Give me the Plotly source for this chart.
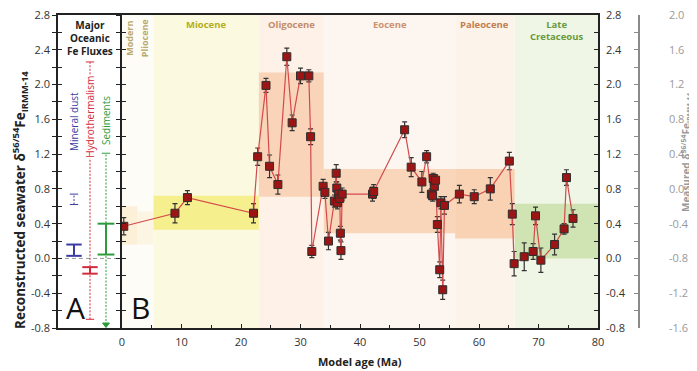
import plotly.graph_objects as go

# ---------------- data ----------------
ages = [0.3, 8.9, 11.0, 22.1, 22.8, 24.2, 24.8, 26.2, 27.7, 28.6, 30.0, 31.4, 31.7, 31.9,
        33.8, 34.1, 34.7, 35.7, 36.0, 36.1, 36.2, 36.4, 36.6, 36.7, 36.8, 37.0,
        42.1, 42.3, 47.5, 48.6, 50.4, 51.2, 52.0, 52.2, 52.3, 52.5, 52.7, 53.0, 53.4,
        53.6, 53.9, 54.2, 56.7, 59.2, 61.9, 65.1, 65.6, 65.9, 67.6, 69.1, 69.5, 70.4,
        72.7, 74.3, 74.7, 75.8]
values = [0.37, 0.52, 0.70, 0.52, 1.17, 1.99, 1.06, 0.85, 2.32, 1.56, 2.10, 2.10, 1.40, 0.08,
          0.83, 0.76, 0.20, 0.66, 0.98, 0.81, 0.64, 0.74, 0.69, 0.29, 0.09, 0.74,
          0.74, 0.77, 1.48, 1.05, 0.88, 1.17, 0.74, 0.72, 0.92, 0.83, 0.90, 0.39, -0.13,
          0.64, -0.36, 0.61, 0.74, 0.71, 0.80, 1.12, 0.51, -0.06, 0.02, 0.08, 0.49, -0.02,
          0.16, 0.34, 0.93, 0.46]
errors = [0.10, 0.11, 0.08, 0.11, 0.10, 0.08, 0.13, 0.11, 0.10, 0.09, 0.09, 0.07, 0.09, 0.07,
          0.08, 0.07, 0.10, 0.07, 0.10, 0.07, 0.07, 0.07, 0.07, 0.08, 0.10, 0.07,
          0.08, 0.08, 0.09, 0.11, 0.12, 0.07, 0.06, 0.06, 0.06, 0.06, 0.06, 0.09, 0.09,
          0.07, 0.11, 0.10, 0.10, 0.08, 0.13, 0.10, 0.12, 0.14, 0.16, 0.09, 0.10, 0.14,
          0.12, 0.06, 0.09, 0.10]

# epochs (Ma) and reconstructed ranges
epoch_names = ["Modern", "Pliocene", "Miocene", "Oligocene", "Eocene", "Paleocene", "Late<br>Cretaceous"]
epoch_start = [0.0, 2.6, 5.3, 23.0, 33.9, 56.0, 66.0]
epoch_end = [2.6, 5.3, 23.0, 33.9, 56.0, 66.0, 80.0]
band_low = [0.16, 0.16, 0.33, 0.71, 0.29, 0.23, 0.0]
band_high = [0.60, 0.54, 0.72, 2.14, 1.03, 1.03, 0.63]

# oceanic Fe fluxes (panel A)
flux_names = ["Mineral dust", "Hydrothermalism", "Sediments"]
flux_typ_low = [0.03, -0.175, 0.045]
flux_typ_high = [0.16, -0.10, 0.40]
flux_rng_low = [0.62, -0.70, -0.76]
flux_rng_high = [0.74, 2.26, 1.21]

# axis ticks
y_major = [-0.8, -0.4, 0.0, 0.4, 0.8, 1.2, 1.6, 2.0, 2.4, 2.8]
y_major_text = ["-0.8", "-0.4", "0.0", "0.4", "0.8", "1.2", "1.6", "2.0", "2.4", "2.8"]
y_minor = [-0.6, -0.2, 0.2, 0.6, 1.0, 1.4, 1.8, 2.2, 2.6]
m_major = [-1.6, -1.2, -0.8, -0.4, 0.0, 0.4, 0.8, 1.2, 1.6, 2.0]
m_major_text = ["-1.6", "-1.2", "-0.8", "-0.4", "0.0", "0.4", "0.8", "1.2", "1.6", "2.0"]
m_minor = [-1.4, -1.0, -0.6, -0.2, 0.2, 0.6, 1.0, 1.4, 1.8]
x_ticks = [0, 10, 20, 30, 40, 50, 60, 70, 80]
x_minor = [5, 15, 25, 35, 45, 55, 65, 75]

# ---------------- styles ----------------
FONT = "Open Sans"
bg_colors = ["#fefcf6", "#fefcf6", "#fbfae0", "#fdf1e8", "#fdf6f0", "#fcf3eb", "#eff6e6"]
band_colors = ["#fcf0d8", "#fdf5e4", "#f6ef8e", "#f9d4b8", "#f9d6ba", "#f8d2b3", "#cfe4b2"]
label_colors = ["#baa96f", "#baa96f", "#b5ad22", "#c48c6a", "#cf916f", "#c47d4d", "#689a3e"]
flux_colors = ["#3b3ba3", "#d22b3c", "#2d9b3c"]


def tick_arrays(major, major_text, minor):
    vals = sorted(major + minor)
    txt = []
    for v in vals:
        txt.append(major_text[major.index(v)] if v in major else "")
    return vals, txt


yv, yt = tick_arrays(y_major, y_major_text, y_minor)
mv, mt = tick_arrays(m_major, m_major_text, m_minor)

# page body has an 8px margin: size the figure so that window pixels match the target
OFF = 8
W, H = 697 - OFF, 371 - OFF
PLOT_L, PLOT_R, PLOT_T, PLOT_B = 58, 639, 15, 328   # window pixels of plot area
ML, MR, MT, MB = PLOT_L - OFF, W - (PLOT_R - OFF), PLOT_T - OFF, H - (PLOT_B - OFF)
PW = PLOT_R - PLOT_L
PH = PLOT_B - PLOT_T
dA = (122 - PLOT_L) / PW
dB = (598 - PLOT_L) / PW


def py(px):  # window pixel y -> paper
    return (PLOT_B - px) / PH


def pxx(px):  # window pixel x -> paper
    return (px - PLOT_L) / PW


fig = go.Figure()

# ---------- panel B background ----------
shapes = []
for i in range(len(epoch_names)):
    shapes.append(dict(type="rect", xref="x2", yref="paper", x0=epoch_start[i], x1=epoch_end[i],
                       y0=0, y1=1, fillcolor=bg_colors[i], line=dict(width=0), layer="below"))
for i in range(len(epoch_names)):
    shapes.append(dict(type="rect", xref="x2", yref="y", x0=epoch_start[i], x1=epoch_end[i],
                       y0=band_low[i], y1=band_high[i], fillcolor=band_colors[i],
                       line=dict(width=0), layer="below"))

# ---------- panel B data ----------
fig.add_trace(go.Scatter(
    x=ages, y=values, xaxis="x2", yaxis="y", mode="lines+markers",
    line=dict(color="#d24a4a", width=1.2),
    marker=dict(symbol="square", size=8, color="#9c1414", line=dict(color="#2e2e2e", width=1)),
    error_y=dict(type="data", array=errors, visible=True, color="#333333", thickness=1.2, width=2.5),
    showlegend=False, hoverinfo="skip"))

# ---------- panel A ----------
fig.add_trace(go.Scatter(x=[0, 4], y=[0, 0], xaxis="x", yaxis="y", mode="lines",
                         line=dict(color="#999999", width=1, dash="4px,3px"),
                         showlegend=False, hoverinfo="skip"))
for i, name in enumerate(flux_names):
    xi = i + 1
    col = flux_colors[i]
    end_symbols = ["line-ew", "line-ew"]
    if i == 2:
        end_symbols = ["triangle-down", "line-ew"]
    fig.add_trace(go.Scatter(
        x=[xi, xi], y=[flux_rng_low[i], flux_rng_high[i]], xaxis="x", yaxis="y",
        mode="lines+markers", line=dict(color=col, width=1, dash="2px,1.5px"),
        marker=dict(symbol=end_symbols, size=6, color=col, line=dict(color=col, width=1)),
        showlegend=False, hoverinfo="skip"))
    fig.add_trace(go.Scatter(
        x=[xi, xi], y=[flux_typ_low[i], flux_typ_high[i]], xaxis="x", yaxis="y",
        mode="lines+markers", line=dict(color=col, width=2),
        marker=dict(symbol="line-ew", size=11 if i < 2 else 12, color=col, line=dict(color=col, width=2)),
        showlegend=False, hoverinfo="skip"))

# dummy traces so that overlay axes exist
for xa, ya in [("x", "y2"), ("x2", "y3"), ("x2", "y4"), ("x2", "y5"), ("x2", "y6")]:
    fig.add_trace(go.Scatter(x=[None], y=[None], xaxis=xa, yaxis=ya, mode="markers",
                             showlegend=False, hoverinfo="skip"))

# ---------- annotations ----------
ann = []
label_pos_x = [1.3, 3.9, 14.2, 28.5, 45.0, 61.0, 73.0]
for i, nm in enumerate(epoch_names):
    if i < 2:
        ann.append(dict(text="<b>%s</b>" % nm, xref="x2", yref="paper", x=label_pos_x[i],
                        y=py(38), textangle=-90, showarrow=False, xanchor="center", yanchor="middle",
                        font=dict(family=FONT, size=9, color=label_colors[i])))
    else:
        ann.append(dict(text="<b>%s</b>" % nm, xref="x2", yref="paper", x=label_pos_x[i],
                        y=py(16), yanchor="top", xanchor="center", showarrow=False,
                        font=dict(family=FONT, size=9.5, color=label_colors[i])))

flux_label_y = [1.57, 1.63, 1.58]
for i, nm in enumerate(flux_names):
    ann.append(dict(text=nm, xref="x", yref="y", x=i + 1, y=flux_label_y[i], textangle=-90,
                    showarrow=False, bgcolor="white", borderpad=0, xanchor="center", yanchor="middle",
                    font=dict(family=FONT, size=10, color=flux_colors[i])))

ann.append(dict(text="<b>Major<br>Oceanic<br>Fe Fluxes</b>", xref="x", yref="paper", x=2.0,
                y=py(16), yanchor="top", xanchor="center", showarrow=False,
                font=dict(family=FONT, size=10, color="#222")))
ann.append(dict(text="A", xref="paper", yref="paper", x=pxx(75), y=py(307), xanchor="center",
                yanchor="middle", showarrow=False, font=dict(family=FONT, size=30, color="#111")))
ann.append(dict(text="B", xref="paper", yref="paper", x=pxx(140), y=py(307), xanchor="center",
                yanchor="middle", showarrow=False, font=dict(family=FONT, size=30, color="#111")))
ann.append(dict(text="<b>Reconstructed seawater δ<sup>56/54</sup>Fe<sub>IRMM-14</sub></b>",
                xref="paper", yref="paper", x=pxx(20), y=py(200), textangle=-90,
                xanchor="center", yanchor="middle",
                showarrow=False, font=dict(family=FONT, size=13.5, color="#222")))
ann.append(dict(text="<b>Measured δ<sup>56/54</sup>Fe<sub>IRMM-14</sub></b>",
                xref="paper", yref="paper", x=pxx(687), y=py(153), textangle=-90,
                xanchor="center", yanchor="middle",
                showarrow=False, font=dict(family=FONT, size=10, color="#9a9a9a")))
ann.append(dict(text="<b>Model age (Ma)</b>", xref="x2", yref="paper", x=40, y=py(361),
                xanchor="center", yanchor="middle",
                showarrow=False, font=dict(family=FONT, size=11, color="#222")))

LC = "#222222"
common_y = dict(range=[-0.8, 2.8], showgrid=False, zeroline=False, tickmode="array",
                tickvals=yv, ticktext=yt, tickcolor=LC, ticklen=4, tickwidth=1.2, automargin=False,
                ticklabeloverflow="allow")

fig.update_layout(
    width=W, height=H,
    margin=dict(l=ML, r=MR, t=MT, b=MB, autoexpand=False),
    paper_bgcolor="white", plot_bgcolor="white",
    font=dict(family=FONT, size=11, color="#333"),
    shapes=shapes, annotations=ann, showlegend=False,
    xaxis=dict(domain=[0, dA], range=[0, 4], showgrid=False, zeroline=False, showticklabels=False,
               ticks="", showline=True, mirror=True, linecolor=LC, linewidth=1.5, anchor="y",
               automargin=False),
    xaxis2=dict(domain=[dA, dB], range=[0, 80], anchor="y", showgrid=False, zeroline=False,
                tickmode="array", tickvals=x_ticks, ticks="inside", ticklen=4, tickcolor=LC,
                tickwidth=1.2, showline=True, mirror=True, linecolor=LC, linewidth=1.5,
                ticklabelstandoff=3, tickfont=dict(size=11, color="#333"), automargin=False,
                ticklabeloverflow="allow",
                minor=dict(tickmode="array", tickvals=x_minor, ticks="inside", ticklen=3,
                           tickcolor=LC, tickwidth=1.2)),
    yaxis=dict(**common_y, anchor="x", side="left", ticks="outside", showline=True,
               linecolor=LC, linewidth=1.5, tickfont=dict(size=11, color="#333")),
    yaxis2=dict(**common_y, anchor="x", overlaying="y", side="left", ticks="inside",
                showticklabels=False, showline=False),
    yaxis3=dict(**common_y, anchor="x2", overlaying="y", side="left", ticks="outside",
                showticklabels=False, showline=True, linecolor=LC, linewidth=1.5),
    yaxis4=dict(**common_y, anchor="x2", overlaying="y", side="left", ticks="inside",
                showticklabels=False, showline=False),
    yaxis5=dict(**common_y, anchor="x2", overlaying="y", side="right", ticks="inside",
                showticklabels=True, showline=True, linecolor=LC, linewidth=1.5,
                ticklabelstandoff=4, tickfont=dict(size=11, color="#333")),
    yaxis6=dict(range=[-1.6, 2.0], anchor="free", position=1.0, overlaying="y", side="right",
                showgrid=False, zeroline=False, tickmode="array", tickvals=mv, ticktext=mt,
                ticks="inside", ticklen=4, tickwidth=1.2, tickcolor="#8a8a8a", showline=True,
                linecolor="#8a8a8a", linewidth=1.5, ticklabelstandoff=27, automargin=False,
                ticklabeloverflow="allow", tickfont=dict(size=11, color="#9a9a9a")),
)

fig.write_html("out.html")
